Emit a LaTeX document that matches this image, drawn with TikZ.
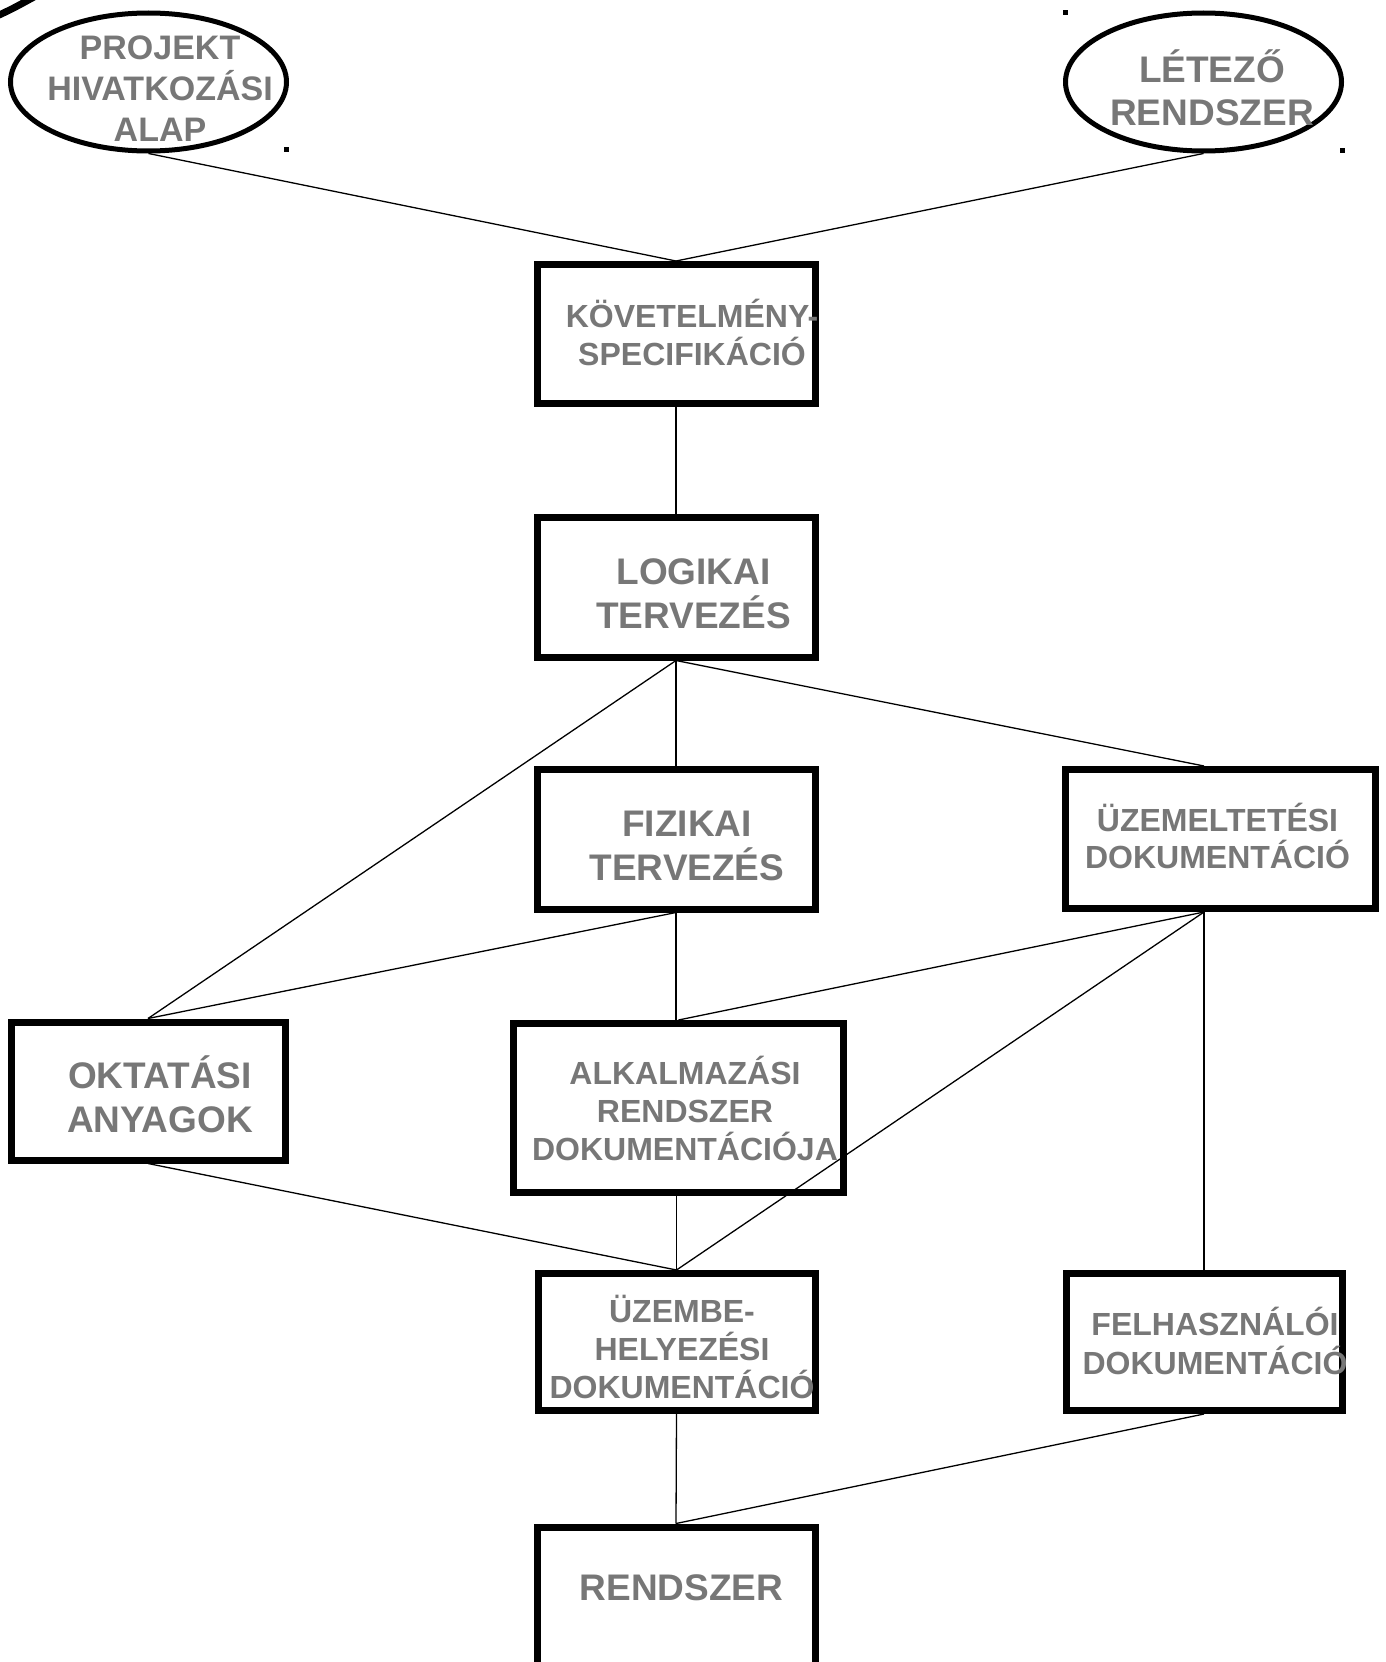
\documentclass[tikz,border=0pt]{standalone}
\usepackage{fontspec}
\setmainfont{Liberation Sans}
\usetikzlibrary{calc,positioning,shapes.geometric}
\definecolor{labelgray}{RGB}{119,119,119}

\begin{document}
\begin{tikzpicture}[x=1pt, y=-1pt,
		doc/.style={rectangle, draw, line width=7pt, inner sep=0pt, minimum width=278pt, minimum height=139pt},
		source/.style={ellipse, draw, line width=5pt, inner sep=0pt, minimum width=276pt, minimum height=138pt},
		lbl/.style={text=labelgray, font=\bfseries\fontsize{32}{38}\selectfont, align=center, inner sep=0pt},
		biglbl/.style={lbl, font=\bfseries\fontsize{37}{44}\selectfont},
		link/.style={line width=1.3pt},
		handle/.style={fill=black}
		]

		\useasboundingbox (0,0) rectangle (1385,1662);

		% --- Források (ellipszisek) ---
		\node[source] (pha) at (148.5,82) {};
		\node[source] (ler) at (1203.5,82) {};
		\node[lbl, font=\bfseries\fontsize{34}{41}\selectfont] (pha-t) at ($(pha)+(11.5,6.5)$) {PROJEKT\\HIVATKOZÁSI\\ALAP};
		\node[biglbl, font=\bfseries\fontsize{37}{43}\selectfont] (ler-t) at ($(ler)+(8.5,6)$) {LÉTEZŐ\\RENDSZER};

		% jelölő pontok
		\fill[handle] (283.5,147) rectangle +(5,5);
		\fill[handle] (1062.5,10.5) rectangle +(5,5);
		\fill[handle] (1339.5,148) rectangle +(5,5);
		\draw[line width=7pt] (-3,16) .. controls (12,9) .. (34,-3);

		% --- Dokumentumok ---
		\node[doc] (kov) at (676,334) {};
		\node[doc, minimum height=140pt] (log) at (676,587) {};
		\node[doc, minimum height=140pt] (fiz) at (676,839) {};
		\node[doc, minimum width=310pt, minimum height=139pt] (uzem) at (1220,839) {};
		\node[doc, minimum width=274pt, minimum height=138pt] (okt) at (148,1091) {};
		\node[doc, minimum width=330pt, minimum height=169pt] (alk) at (678.5,1108) {};
		\node[doc, minimum width=277pt, minimum height=137pt] (uzb) at (676.5,1342) {};
		\node[doc, minimum width=276pt, minimum height=137pt] (felh) at (1204,1342) {};
		\node[doc, minimum height=200pt] (ren) at (676,1627) {};

		% feliratok
		\node[lbl] (kov-t) at ($(kov)+(16,-1.5)$) {KÖVETELMÉNY-\\SPECIFIKÁCIÓ};
		\node[biglbl] (log-t) at ($(log)+(17.5,7)$) {LOGIKAI\\TERVEZÉS};
		\node[biglbl] (fiz-t) at ($(fiz)+(11,7)$) {FIZIKAI\\TERVEZÉS};
		\node[lbl, font=\bfseries\fontsize{32}{37}\selectfont] (uzem-t) at ($(uzem)+(-2.5,-3)$) {ÜZEMELTETÉSI\\DOKUMENTÁCIÓ};
		\node[biglbl] (okt-t) at ($(okt)+(12,3.5)$) {OKTATÁSI\\ANYAGOK};
		\node[lbl] (alk-t) at ($(alk)+(6.5,0)$) {ALKALMAZÁSI\\RENDSZER\\DOKUMENTÁCIÓJA};
		\node[lbl] (uzb-t) at ($(uzb)+(5.5,5)$) {ÜZEMBE-\\HELYEZÉSI\\DOKUMENTÁCIÓ};
		\node[lbl, font=\bfseries\fontsize{32}{39}\selectfont] (felh-t) at ($(felh)+(11,-1.5)$) {FELHASZNÁLÓI\\DOKUMENTÁCIÓ};
		\node[biglbl] (ren-t) at ($(ren.north)+(5.5,64.5)$) {RENDSZER};

		% --- Kapcsolatok ---
		\draw[link] (pha.south) -- (kov.north);
		\draw[link] (ler.south) -- (kov.north);
		\draw[link] (kov.south) -- (log.north);
		\draw[link] (log.south) -- (okt.north);
		\draw[link] (log.south) -- (fiz.north);
		\draw[link] (log.south) -- (uzem.north -| felh.north);
		\draw[link] (fiz.south) -- (okt.north);
		\draw[link] (fiz.south) -- (fiz.south |- alk.north);
		\draw[link] (uzem.south -| felh.north) -- (alk.north);
		\draw[link] (uzem.south -| felh.north) -- (uzb.north);
		\draw[link] (uzem.south -| felh.north) -- (felh.north);
		\draw[link] (okt.south) -- (uzb.north);
		\draw[link] (alk.south -| uzb.north) -- (uzb.north);
		\draw[link] (uzb.south) -- (ren.north);
		\draw[link] (felh.south) -- (ren.north);

	\end{tikzpicture}
\end{document}
